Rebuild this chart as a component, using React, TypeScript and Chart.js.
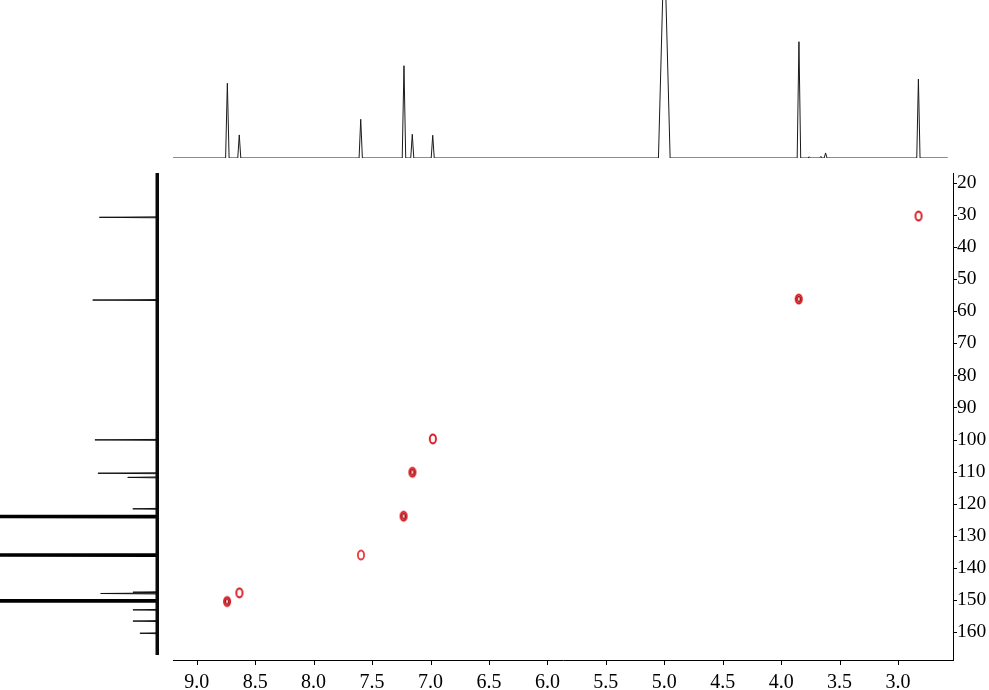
import React, { useEffect, useRef } from 'react';
import { Chart, registerables } from 'chart.js';

Chart.register(...registerables);

// ---- 1H projection (top trace) ----
const protonShift = [8.738, 8.636, 7.597, 7.227, 7.156, 6.981, 5.0, 3.848, 3.76, 3.66, 3.62, 2.826];
const protonHeight = [47.3, 14.6, 24.5, 58.4, 15.0, 14.4, 140, 73.6, 0.8, 1.0, 3.2, 50.0];
const protonHalfWidth = [0.015, 0.013, 0.014, 0.015, 0.013, 0.013, 0.05, 0.015, 0.01, 0.01, 0.012, 0.014];
const protonRange = [9.203, 2.575];

// ---- 13C projection (left trace) ----
const carbonShift = [30.7, 56.5, 100.1, 110.5, 111.8, 121.6, 124.0, 136.0, 147.6, 148.0, 150.3, 153.1, 156.6, 160.4];
const carbonHeight = [37.5, 41.7, 40.3, 38.4, 19.7, 16.5, 400, 400, 16.4, 36.7, 400, 16.4, 16.4, 12.0];
const carbonRange = [16.9, 167.2];

// ---- HSQC cross peaks ----
const hsqcH = [8.74, 8.635, 7.595, 7.23, 7.155, 6.98, 3.85, 2.825];
const hsqcC = [150.5, 147.8, 136.0, 123.9, 110.2, 99.8, 56.2, 30.3];
const hsqcStrong = [true, false, false, true, true, false, true, false];

// ---- axes ----
const hAxisMin = 2.53;
const hAxisMax = 9.203;
const hMinorStep = 0.25;
const hMajorStep = 0.5;
const cAxisMin = 16.88;
const cAxisMax = 168.74;
const cMinorStep = 5;
const cMajorStep = 10;

const FONT = '"Liberation Serif", "Times New Roman", serif';

const isMultiple = (v: number, step: number) => Math.abs(v / step - Math.round(v / step)) < 1e-6;

function makeRing(strong: boolean, light: boolean) {
  const c = document.createElement('canvas');
  c.width = 12;
  c.height = 14;
  const g = c.getContext('2d')!;
  g.strokeStyle = light ? '#e8383e' : '#d8121a';
  g.lineWidth = 1.8;
  g.beginPath();
  g.ellipse(6, 7, 3.1, 4.5, 0, 0, Math.PI * 2);
  g.stroke();
  if (strong) {
    g.strokeStyle = '#9c0a0e';
    g.lineWidth = 1.3;
    g.beginPath();
    g.ellipse(6, 7, 1.5, 2.7, 0, 0, Math.PI * 2);
    g.stroke();
  }
  return c;
}

const tickPlugin = {
  id: 'nmrTicks',
  afterDraw(chart: any) {
    const ctx = chart.ctx;
    const xs = chart.scales.x;
    const ys = chart.scales.y;
    ctx.save();
    ctx.strokeStyle = '#000';
    ctx.lineWidth = 1;
    xs.ticks.forEach((t: any) => {
      const px = Math.round(xs.getPixelForValue(t.value)) + 0.5;
      const len = isMultiple(t.value, hMajorStep) ? 5 : 3;
      ctx.beginPath();
      ctx.moveTo(px, xs.top);
      ctx.lineTo(px, xs.top + len);
      ctx.stroke();
    });
    ys.ticks.forEach((t: any) => {
      const py = Math.round(ys.getPixelForValue(t.value)) + 0.5;
      const len = isMultiple(t.value, cMajorStep) ? 4 : 3;
      ctx.beginPath();
      ctx.moveTo(ys.left, py);
      ctx.lineTo(ys.left + len, py);
      ctx.stroke();
    });
    ctx.restore();
  },
};

export default function App() {
  const topRef = useRef<HTMLCanvasElement>(null);
  const leftRef = useRef<HTMLCanvasElement>(null);
  const mainRef = useRef<HTMLCanvasElement>(null);

  useEffect(() => {
    // top 1H trace
    const protonTrace: { x: number; y: number }[] = [{ x: protonRange[0], y: 0 }];
    protonShift.forEach((s, i) => {
      const w = protonHalfWidth[i];
      protonTrace.push({ x: s + w, y: 0 }, { x: s, y: protonHeight[i] }, { x: s - w, y: 0 });
    });
    protonTrace.push({ x: protonRange[1], y: 0 });

    // left 13C traces
    const smallTrace: { x: number; y: number }[] = [{ x: 0, y: carbonRange[0] }];
    const bigTrace: { x: number; y: number }[] = [{ x: 0, y: carbonRange[0] }];
    carbonShift.forEach((s, i) => {
      const h = carbonHeight[i];
      if (h > 100) {
        bigTrace.push({ x: 0, y: s - 0.12 }, { x: h, y: s }, { x: 0, y: s + 0.12 });
      } else {
        smallTrace.push({ x: 0, y: s - 0.15 }, { x: h, y: s }, { x: 0, y: s + 0.15 });
      }
    });
    smallTrace.push({ x: 0, y: carbonRange[1] });
    bigTrace.push({ x: 0, y: carbonRange[1] });

    const hsqcPoints = hsqcH.map((h, i) => ({ x: h, y: hsqcC[i] }));
    const rings = [makeRing(false, false), makeRing(true, false), makeRing(false, true)];

    const common = {
      animation: false as const,
      responsive: false,
      events: [] as any[],
      plugins: { legend: { display: false }, tooltip: { enabled: false } },
    };

    const top = new Chart(topRef.current!, {
      type: 'scatter',
      data: {
        datasets: [
          {
            data: protonTrace,
            showLine: true,
            borderColor: '#1a1a1a',
            borderWidth: 1,
            pointRadius: 0,
            borderJoinStyle: 'bevel',
          } as any,
        ],
      },
      options: {
        ...common,
        layout: { autoPadding: false, padding: { left: 173, right: 36, top: 0, bottom: 15 } },
        scales: {
          x: { type: 'linear', reverse: true, min: hAxisMin, max: hAxisMax, display: false },
          y: { type: 'linear', min: 0, max: 100, display: false },
        },
      },
    });

    const left = new Chart(leftRef.current!, {
      type: 'scatter',
      data: {
        datasets: [
          {
            data: [
              { x: 0, y: carbonRange[0] },
              { x: 0, y: carbonRange[1] },
            ],
            showLine: true,
            borderColor: '#0a0a0a',
            borderWidth: 7,
            pointRadius: 0,
          } as any,
          {
            data: smallTrace,
            showLine: true,
            borderColor: '#111',
            borderWidth: 1,
            pointRadius: 0,
            borderJoinStyle: 'bevel',
          },
          {
            data: bigTrace,
            showLine: true,
            borderColor: '#000',
            borderWidth: 3,
            pointRadius: 0,
            borderJoinStyle: 'bevel',
          },
        ],
      },
      options: {
        ...common,
        layout: { autoPadding: false, padding: { left: 0, right: 14, top: 0, bottom: 0 } },
        scales: {
          x: { type: 'linear', reverse: true, min: 0, max: 100, display: false },
          y: { type: 'linear', reverse: true, min: cAxisMin, max: cAxisMax, display: false },
        },
      },
    });

    const main = new Chart(mainRef.current!, {
      type: 'scatter',
      data: {
        datasets: [
          {
            data: hsqcPoints,
            pointStyle: (ctx: any) => {
              const i = ctx.dataIndex;
              if (hsqcStrong[i]) return rings[1];
              return i === 2 ? rings[2] : rings[0];
            },
            pointRadius: 5,
          } as any,
        ],
      },
      options: {
        ...common,
        layout: { autoPadding: false, padding: 0 },
        scales: {
          x: {
            type: 'linear',
            position: 'bottom',
            reverse: true,
            min: hAxisMin,
            max: hAxisMax,
            grid: { display: false, drawTicks: false },
            border: { display: true, color: '#000', width: 1 },
            ticks: {
              stepSize: hMinorStep,
              autoSkip: false,
              includeBounds: false,
              maxRotation: 0,
              padding: 11,
              color: '#000',
              font: { family: FONT, size: 20 },
              callback: (v: any) => (isMultiple(Number(v), hMajorStep) ? Number(v).toFixed(1) : null),
            },
            afterFit: (s: any) => {
              s.height = 30;
              s.paddingLeft = 0;
              s.paddingRight = 0;
            },
          },
          y: {
            type: 'linear',
            position: 'right',
            reverse: true,
            min: cAxisMin,
            max: cAxisMax,
            grid: { display: false, drawTicks: false },
            border: { display: true, color: '#000', width: 1 },
            ticks: {
              stepSize: cMinorStep,
              autoSkip: false,
              includeBounds: false,
              padding: 4,
              color: '#000',
              font: { family: FONT, size: 19.5 },
              callback: (v: any) => (isMultiple(Number(v), cMajorStep) ? String(Math.round(Number(v))) : null),
            },
            afterFit: (s: any) => {
              s.width = 36;
              s.paddingTop = 0;
              s.paddingBottom = 0;
            },
          },
        },
      },
      plugins: [tickPlugin],
    });

    return () => {
      top.destroy();
      left.destroy();
      main.destroy();
    };
  }, []);

  return (
    <div style={{ position: 'fixed', left: 0, top: 0, width: 989, height: 690, background: '#fff', overflow: 'hidden' }}>
      <canvas ref={topRef} width={989} height={173} style={{ position: 'absolute', left: 0, top: 0 }} />
      <canvas ref={leftRef} width={173} height={487} style={{ position: 'absolute', left: 0, top: 173 }} />
      <canvas ref={mainRef} width={816} height={517} style={{ position: 'absolute', left: 173, top: 173 }} />
    </div>
  );
}
